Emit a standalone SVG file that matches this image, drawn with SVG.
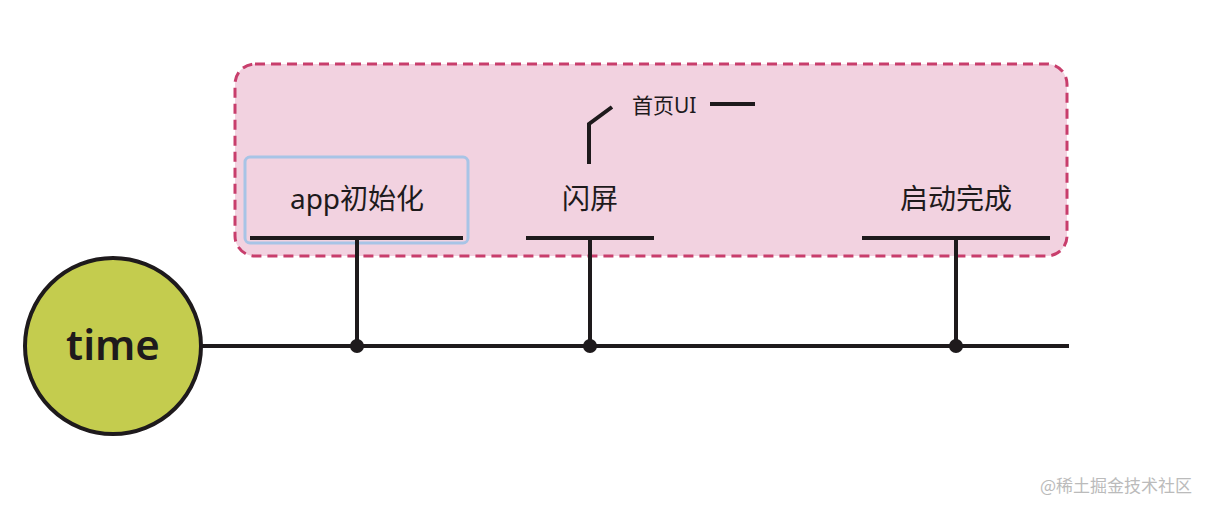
<svg xmlns="http://www.w3.org/2000/svg" width="1208" height="512" viewBox="0 0 1208 512">
<style>
.t{font-family:"Noto Sans","Noto Sans CJK SC",sans-serif;fill:#1e1a1c}
.ln{stroke:#1e1a1c;stroke-width:4;fill:none}
</style>
<rect width="1208" height="512" fill="#fff"/>
<g id="group"><rect x="235" y="64" width="832" height="192" rx="20" fill="#f2d2e0" stroke="#c83e6c" stroke-width="3" stroke-dasharray="10 6"/></g>
<g id="app"><rect x="245" y="157" width="223" height="86" rx="5" fill="none" stroke="#a8c4e6" stroke-width="3"/>
<text class="t" x="357" y="209" font-size="28" text-anchor="middle">app初始化</text>
<line class="ln" x1="250" y1="238" x2="463" y2="238" stroke-width="5"/></g>
<g id="splash"><text class="t" x="590" y="209" font-size="28" text-anchor="middle">闪屏</text>
<line class="ln" x1="526" y1="238" x2="654" y2="238" stroke-width="5"/></g>
<g id="homeui"><text class="t" x="632" y="113" font-size="21">首页UI</text>
<polyline class="ln" stroke-width="3" points="589,164 589,124 612,107"/>
<line class="ln" stroke-width="3" x1="710" y1="104" x2="755" y2="104"/></g>
<g id="done"><text class="t" x="956" y="209" font-size="28" text-anchor="middle">启动完成</text>
<line class="ln" x1="862" y1="238" x2="1050" y2="238" stroke-width="5"/></g>
<g id="time"><circle cx="113" cy="346" r="88" fill="#c4cc4e" stroke="#1e1a1c" stroke-width="4"/>
<text class="t" x="113" y="360" font-size="42" font-weight="600" text-anchor="middle">time</text></g>
<g id="connectors">
<line class="ln" x1="201" y1="346" x2="1069" y2="346"/>
<line class="ln" x1="357" y1="238" x2="357" y2="346"/>
<line class="ln" x1="590" y1="238" x2="590" y2="346"/>
<line class="ln" x1="956" y1="238" x2="956" y2="346"/>
<circle cx="357" cy="346" r="7" fill="#1e1a1c"/>
<circle cx="590" cy="346" r="7" fill="#1e1a1c"/>
<circle cx="956" cy="346" r="7" fill="#1e1a1c"/>
</g>
<text x="1192" y="492" font-size="17" text-anchor="end" fill="#bbb" font-family="Noto Sans CJK SC,sans-serif">@稀土掘金技术社区</text>
</svg>
